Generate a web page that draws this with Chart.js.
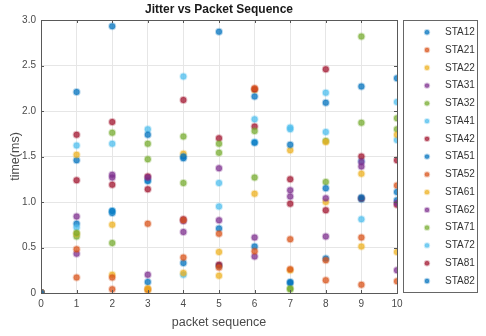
<!DOCTYPE html>
<html>
<head>
<meta charset="utf-8">
<script src="https://cdn.jsdelivr.net/npm/chart.js@4.4.1/dist/chart.umd.min.js"></script>
<style>
  html, body { margin: 0; padding: 0; background: #ffffff; }
  #wrap { width: 486px; height: 336px; position: relative; }
</style>
</head>
<body>
<div id="wrap"><canvas id="c" width="486" height="336"></canvas></div>
<script>
// ---- data ----
const xValues = [0, 1, 2, 3, 4, 5, 6, 7, 8, 9, 10];
const seriesNames = ['STA12','STA21','STA22','STA31','STA32','STA41','STA42','STA51','STA52','STA61','STA62','STA71','STA72','STA81','STA82'];
const STA12 = [0, 2.21, 2.93, 1.74, 1.50, 2.87, 2.16, 1.63, 2.09, 2.27, 2.36];
const STA21 = [0, 0.48, 0.17, 0.76, 0.39, 0.65, 2.25, 0.59, 0.14, 0.61, 0.13];
const STA22 = [0, 1.52, 0.75, 0.05, 1.53, 0.45, 1.09, 1.57, 1.66, 1.31, 1.74];
const STA31 = [0, 0.84, 1.30, 1.27, 0.67, 1.37, 0.61, 1.13, 1.04, 1.44, 0.99];
const STA32 = [0, 0.66, 1.76, 1.64, 1.72, 1.64, 1.78, 0.04, 1.67, 2.82, 1.92];
const STA41 = [0, 1.62, 1.64, 1.80, 2.38, 1.21, 1.91, 1.82, 2.20, 0.81, 2.10];
const STA42 = [0, 1.74, 1.88, 1.28, 2.12, 1.70, 2.24, 1.25, 2.46, 1.50, 1.46];
const STA51 = [0, 1.46, 0.90, 1.23, 1.48, 0.71, 1.65, 0.12, 1.15, 1.05, 1.11];
const STA52 = [0, 0.17, 0.04, 0.04, 0.80, 0.28, 0.46, 0.26, 0.36, 0.09, 1.18];
const STA61 = [0, 0.65, 0.20, 0.03, 0.22, 0.19, 2.23, 0.25, 1.00, 0.51, 0.45];
const STA62 = [0, 0.43, 1.27, 0.20, 0.79, 0.80, 0.40, 1.06, 0.62, 1.39, 0.25];
const STA71 = [0, 0.62, 0.55, 1.47, 1.21, 1.54, 1.27, 0.05, 1.22, 1.87, 1.80];
const STA72 = [0, 0.72, 0.90, 1.24, 0.20, 0.95, 1.66, 1.80, 1.77, 1.45, 1.68];
const STA81 = [0, 1.24, 1.19, 1.14, 0.81, 0.31, 1.83, 0.98, 0.91, 1.04, 0.97];
const STA82 = [0, 0.76, 0.88, 0.12, 0.33, 0.30, 0.51, 0.11, 0.38, 1.03, 1.02];
const seriesValues = [STA12, STA21, STA22, STA31, STA32, STA41, STA42, STA51, STA52, STA61, STA62, STA71, STA72, STA81, STA82];
const yTicks = [0, 0.5, 1, 1.5, 2, 2.5, 3];

// ---- styles ----
const palette = ['#0072BD', '#D95319', '#EDB120', '#7E2F8E', '#77AC30', '#4DBEEE', '#A2142F'];
function hexA(hex, a) {
  const n = parseInt(hex.slice(1), 16);
  return `rgba(${(n >> 16) & 255},${(n >> 8) & 255},${n & 255},${a})`;
}
const FONT = "'Liberation Sans', Arial, sans-serif";

const datasets = seriesNames.map((name, i) => {
  const col = palette[i % palette.length];
  return {
    label: name,
    data: xValues.map((x, j) => ({ x: x, y: seriesValues[i][j] })),
    backgroundColor: hexA(col, 0.75),
    borderColor: hexA(col, 0.28),
    borderWidth: 2,
    pointRadius: 3,
    pointHoverRadius: 3
  };
});

const decor = {
  id: 'decor',
  afterDraw(chart) {
    const ctx = chart.ctx;
    const a = chart.chartArea;
    ctx.save();
    // inward tick marks
    ctx.strokeStyle = '#555555';
    ctx.lineWidth = 1;
    const xs = chart.scales.x, ys = chart.scales.y;
    ctx.beginPath();
    xValues.forEach(v => {
      const px = Math.round(xs.getPixelForValue(v)) + 0.5;
      ctx.moveTo(px, a.bottom); ctx.lineTo(px, a.bottom - 3);
      ctx.moveTo(px, a.top); ctx.lineTo(px, a.top + 3);
    });
    yTicks.forEach(v => {
      const py = Math.round(ys.getPixelForValue(v)) + 0.5;
      ctx.moveTo(a.left, py); ctx.lineTo(a.left + 3, py);
      ctx.moveTo(a.right, py); ctx.lineTo(a.right - 3, py);
    });
    ctx.stroke();
    // axes box
    ctx.strokeStyle = '#595959';
    ctx.strokeRect(Math.round(a.left) + 0.5, Math.round(a.top) + 0.5,
                   Math.round(a.right - a.left), Math.round(a.bottom - a.top));
    // title
    ctx.fillStyle = '#1a1a1a';
    ctx.font = 'bold 12px ' + FONT;
    ctx.textAlign = 'center';
    ctx.textBaseline = 'middle';
    ctx.fillText('Jitter vs Packet Sequence', (a.left + a.right) / 2, 10);
    // legend
    const lx = 403, ly = 20, lw = 74, lh = 272;
    ctx.fillStyle = '#ffffff';
    ctx.fillRect(lx, ly, lw, lh);
    ctx.strokeStyle = '#666666';
    ctx.strokeRect(lx + 0.5, ly + 0.5, lw, lh);
    ctx.font = '10px ' + FONT;
    ctx.textAlign = 'left';
    ctx.textBaseline = 'middle';
    const step = 17.76;
    chart.data.datasets.forEach((ds, i) => {
      const y = 32.3 + i * step;
      ctx.beginPath();
      ctx.arc(427, y, 2.2, 0, Math.PI * 2);
      ctx.fillStyle = ds.backgroundColor;
      ctx.fill();
      ctx.lineWidth = 2;
      ctx.strokeStyle = ds.borderColor;
      ctx.stroke();
      ctx.fillStyle = '#333333';
      ctx.fillText(ds.label, 445, y);
    });
    ctx.restore();
  }
};

new Chart(document.getElementById('c'), {
  type: 'scatter',
  data: { datasets: datasets },
  options: {
    responsive: false,
    animation: false,
    events: [],
    layout: { padding: { left: 0, right: 89, top: 20, bottom: 0 } },
    plugins: { legend: { display: false }, title: { display: false }, tooltip: { enabled: false } },
    scales: {
      x: {
        type: 'linear', min: 0, max: 10,
        afterFit(s) { s.height = 43; },
        grid: { color: '#e6e6e6', drawTicks: false },
        border: { display: false },
        ticks: { stepSize: 1, padding: 5, color: '#4a4a4a', font: { family: FONT, size: 10 } },
        title: { display: true, text: 'packet sequence', color: '#4a4a4a', font: { family: FONT, size: 12.5 }, padding: { top: 0, bottom: 6 } }
      },
      y: {
        type: 'linear', min: 0, max: 3,
        afterFit(s) { s.width = 41; },
        afterBuildTicks(s) { s.ticks = yTicks.map(v => ({ value: v })); },
        grid: { color: '#e6e6e6', drawTicks: false },
        border: { display: false },
        ticks: { padding: 5, color: '#4a4a4a', font: { family: FONT, size: 10 } },
        title: { display: true, text: 'time(ms)', color: '#4a4a4a', font: { family: FONT, size: 12.5 }, padding: { top: 8, bottom: 0 } }
      }
    }
  },
  plugins: [decor]
});
</script>
</body>
</html>
